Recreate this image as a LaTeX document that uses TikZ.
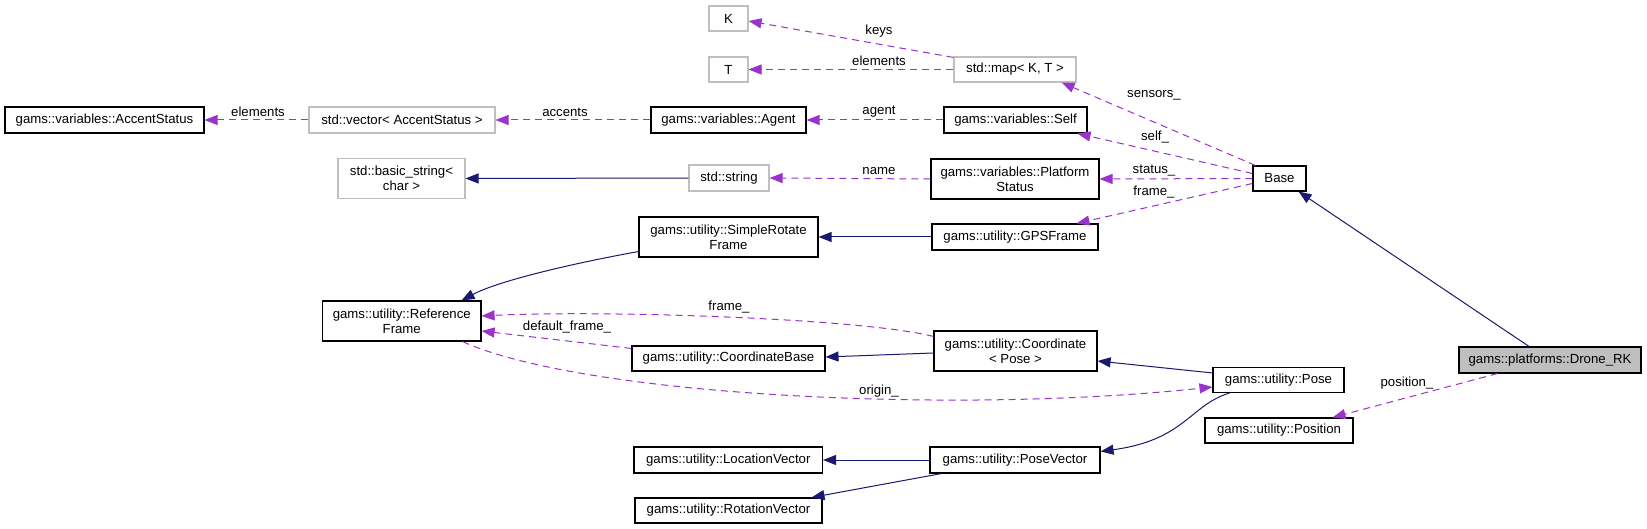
\documentclass[tikz,border=0pt]{standalone}
\usepackage{fontspec}
\setmainfont{Liberation Sans}
\usetikzlibrary{arrows.meta,calc}
\definecolor{memc}{HTML}{9A32CD}
\definecolor{inhc}{HTML}{191970}
\definecolor{grayb}{HTML}{BFBFBF}
\newcommand{\dgfont}{\fontsize{13.2}{15}\selectfont}
\tikzset{
  cls/.style={draw=black, line width=1.1pt, fill=white, inner sep=0pt, align=center, font=\dgfont},
  ext/.style={cls, draw=grayb},
  lbl/.style={inner sep=0pt, font=\dgfont},
  mem/.style={draw=memc, line width=1pt, dash pattern=on 7pt off 5pt, -{Triangle[length=13pt,width=10pt]}},
  inh/.style={draw=inhc, line width=1pt, -{Triangle[length=13pt,width=10pt]}},
}
\begin{document}
\begin{tikzpicture}[x=1pt,y=-1pt]
\useasboundingbox (0,0) rectangle (1647,529);
\fill[white] (0,0) rectangle (1647,529);

% nodes
\node[cls, minimum width=199pt, minimum height=26pt] (accent) at (104.5,120) {gams::variables::AccentStatus};
\node[ext, minimum width=186pt, minimum height=26pt] (vec) at (402,120) {std::vector< AccentStatus >};
\node[cls, minimum width=155pt, minimum height=26pt] (agent) at (728.5,120) {gams::variables::Agent};
\node[cls, minimum width=143pt, minimum height=26pt] (self) at (1015.5,120) {gams::variables::Self};
\node[ext, minimum width=39pt, minimum height=25pt] (K) at (728.5,18.5) {K};
\node[ext, minimum width=39pt, minimum height=25pt] (T) at (728.5,69.5) {T};
\node[ext, minimum width=122pt, minimum height=25pt] (map) at (1015,69.5) {std::map< K, T >};
\node[ext, minimum width=127pt, minimum height=40pt] (bstr) at (401.5,178.5) {std::basic\_string<\\char >};
\node[ext, minimum width=80pt, minimum height=26pt] (str) at (729,178) {std::string};
\node[cls, minimum width=168pt, minimum height=40pt] (pstat) at (1015,179) {gams::variables::Platform\\Status};
\node[cls, minimum width=53pt, minimum height=25pt] (base) at (1279.5,178.5) {Base};
\node[cls, minimum width=179pt, minimum height=40pt] (srf) at (728.5,237) {gams::utility::SimpleRotate\\Frame};
\node[cls, minimum width=166pt, minimum height=26pt] (gps) at (1015,237) {gams::utility::GPSFrame};
\node[cls, minimum width=158.5pt, minimum height=40pt] (ref) at (401.75,321) {gams::utility::Reference\\Frame};
\node[cls, minimum width=163pt, minimum height=40pt] (coord) at (1015.5,351) {gams::utility::Coordinate\\< Pose >};
\node[cls, minimum width=193pt, minimum height=25pt] (cbase) at (728.5,358.5) {gams::utility::CoordinateBase};
\node[cls, minimum width=131pt, minimum height=25pt] (pose) at (1278.5,380) {gams::utility::Pose};
\node[cls, minimum width=148pt, minimum height=25pt] (pos) at (1279,430.5) {gams::utility::Position};
\node[cls, fill=grayb, minimum width=182pt, minimum height=26pt] (drone) at (1550,360) {gams::platforms::Drone\_RK};
\node[cls, minimum width=188.5pt, minimum height=26pt] (lvec) at (728.25,460) {gams::utility::LocationVector};
\node[cls, minimum width=170pt, minimum height=26pt] (pvec) at (1015,460) {gams::utility::PoseVector};
\node[cls, minimum width=187pt, minimum height=25pt] (rvec) at (728.5,510.5) {gams::utility::RotationVector};

% member (dashed) connectors
\draw[mem] (vec.west) -- (accent.east);
\draw[mem] (agent.west) -- (vec.east);
\draw[mem] (self.west) -- (agent.east);
\draw[mem] ($(map.north west)+(0,1)$) -- ($(K.east)+(0,2.5)$);
\draw[mem] (map.west) -- (T.east);
\draw[mem] ($(base.north west)+(3,0)$) -- ($(map.south east)+(-15,0)$);
\draw[mem] ($(base.west)+(0,-5)$) -- ($(self.south east)+(-10,0)$);
\draw[mem] (base.west) -- (pstat.east);
\draw[mem] ($(base.west)+(0,5)$) -- ($(gps.north east)+(-22,0)$);
\draw[mem] (pstat.west) -- (str.east);
\draw[mem] ($(coord.north west)+(0,6)$) .. controls (860,318) and (600,310) .. ($(ref.east)+(0,-5)$);
\draw[mem] ($(cbase.north west)+(0,3)$) -- ($(ref.east)+(0,10)$);
\draw[mem] ($(ref.south east)+(-19,0)$) .. controls (580,395) and (950,415) .. ($(pose.west)+(0,7)$);
\draw[mem] ($(drone.south west)+(39,0)$) -- ($(pos.north east)+(-21,0)$);

% inheritance (solid) connectors
\draw[inh] (str.west) -- (bstr.east);
\draw[inh] (gps.west) -- (srf.east);
\draw[inh] ($(srf.south west)+(0,-6)$) .. controls (580,262) and (500,280) .. ($(ref.north east)+(-20,0)$);
\draw[inh] ($(coord.west)+(0,2)$) -- ($(cbase.east)+(0,-1.5)$);
\draw[inh] ($(pose.north west)+(0,6)$) -- ($(coord.east)+(0,10)$);
\draw[inh] ($(pose.south west)+(17,0)$) .. controls (1190,405) and (1185,440) .. ($(pvec.north east)+(0,5)$);
\draw[inh] (pvec.west) -- (lvec.east);
\draw[inh] ($(pvec.south west)+(12,0)$) -- ($(rvec.north east)+(-11,0)$);
\draw[inh] ($(drone.north)+(-21,0)$) -- ($(base.south east)+(-8,0)$);

% edge labels
\node[lbl] (l1) at (258,112) {elements};
\node[lbl] (l2) at (565,112) {accents};
\node[lbl] (l3) at (879,112) {agent};
\node[lbl] (l4) at (879,31) {keys};
\node[lbl] (l5) at (879,61) {elements};
\node[lbl] (l6) at (1154,95) {sensors\_};
\node[lbl] (l7) at (1155,137) {self\_};
\node[lbl] (l8) at (1154,171) {status\_};
\node[lbl] (l9) at (1154,192) {frame\_};
\node[lbl] (l10) at (879,171) {name};
\node[lbl] (l11) at (729,307) {frame\_};
\node[lbl] (l12) at (567,327) {default\_frame\_};
\node[lbl] (l13) at (879,391) {origin\_};
\node[lbl] (l14) at (1407,383) {position\_};
\end{tikzpicture}
\end{document}
